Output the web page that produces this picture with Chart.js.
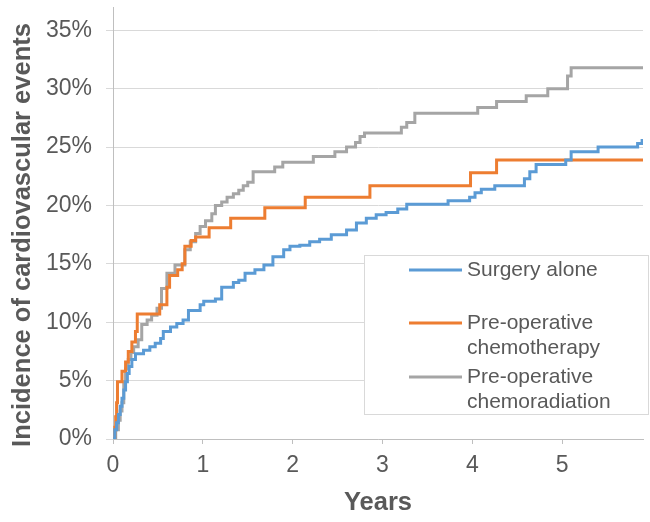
<!DOCTYPE html>
<html lang="en">
<head>
  <meta charset="UTF-8">
  <title>Incidence of cardiovascular events</title>
  <script src="https://cdn.jsdelivr.net/npm/chart.js"></script>
  <style>
    body { margin: 0; padding: 0; background: #fff; }
    canvas { display: block; }
  </style>
</head>
<body>
  <canvas id="kmChart" width="650" height="522"></canvas>
  <script>
    // cumulative incidence (%), time in years
    const surgeryYears = [0, 0.02, 0.04, 0.06, 0.08, 0.10, 0.12, 0.14, 0.16, 0.18, 0.21, 0.25, 0.34, 0.41, 0.47, 0.53, 0.56, 0.64, 0.71, 0.78, 0.84, 0.97, 1.01, 1.14, 1.21, 1.34, 1.40, 1.47, 1.58, 1.68, 1.78, 1.90, 1.97, 2.08, 2.19, 2.30, 2.43, 2.60, 2.71, 2.82, 2.93, 3.04, 3.17, 3.27, 3.73, 3.97, 4.03, 4.10, 4.25, 4.58, 4.64, 4.71, 5.04, 5.10, 5.40, 5.84, 5.89];
    const surgeryRates = [0, 0.8, 1.4, 2.1, 2.8, 3.5, 4.2, 4.9, 5.6, 6.2, 6.8, 7.3, 7.6, 7.9, 8.2, 8.6, 9.2, 9.6, 9.9, 10.2, 11.0, 11.5, 11.8, 12.0, 13.0, 13.4, 13.6, 14.2, 14.5, 14.9, 15.6, 16.2, 16.5, 16.6, 16.9, 17.1, 17.5, 17.9, 18.5, 18.9, 19.2, 19.4, 19.7, 20.1, 20.4, 20.7, 21.1, 21.4, 21.7, 22.3, 22.9, 23.5, 23.9, 24.6, 25.0, 25.3, 25.7];

    const chemoYears = [0, 0.02, 0.03, 0.04, 0.05, 0.10, 0.14, 0.17, 0.21, 0.25, 0.27, 0.52, 0.60, 0.63, 0.72, 0.77, 0.80, 0.87, 0.92, 1.07, 1.31, 1.69, 2.14, 2.86, 3.98, 4.27, 5.90];
    const chemoRates = [0, 1.0, 1.9, 3.1, 4.9, 5.8, 6.6, 7.5, 8.3, 9.2, 10.7, 11.5, 13.0, 14.0, 14.5, 15.0, 16.5, 17.0, 17.3, 18.1, 18.9, 19.8, 20.7, 21.7, 22.8, 23.9, 23.9];

    const chemoradYears = [0, 0.03, 0.06, 0.08, 0.10, 0.12, 0.14, 0.17, 0.20, 0.23, 0.28, 0.32, 0.38, 0.43, 0.49, 0.54, 0.60, 0.69, 0.80, 0.86, 0.92, 0.97, 1.03, 1.10, 1.14, 1.21, 1.27, 1.34, 1.40, 1.45, 1.50, 1.56, 1.80, 1.89, 2.23, 2.47, 2.60, 2.70, 2.75, 2.80, 3.21, 3.27, 3.36, 4.06, 4.27, 4.60, 4.84, 5.06, 5.10, 5.90];
    const chemoradRates = [0, 0.8, 1.6, 2.4, 3.1, 4.9, 6.0, 6.8, 7.4, 7.9, 8.5, 9.8, 10.2, 10.6, 11.2, 12.9, 14.2, 14.9, 16.2, 16.9, 17.6, 18.2, 18.7, 19.3, 20.0, 20.3, 20.7, 21.0, 21.3, 21.7, 22.0, 22.9, 23.3, 23.7, 24.2, 24.6, 25.0, 25.4, 25.9, 26.2, 26.7, 27.1, 27.9, 28.4, 28.9, 29.4, 30.0, 31.1, 31.8, 31.8];

    const seriesLabels = [
      ['Surgery alone'],
      ['Pre-operative', 'chemotherapy'],
      ['Pre-operative', 'chemoradiation']
    ];
    const seriesColors = ['#5B9BD5', '#ED7D31', '#A5A5A5'];
    const yTitle = 'Incidence of cardiovascular events';

    const toPoints = (xs, ys) => xs.map((x, i) => ({ x: x, y: ys[i] }));
    const textColor = '#595959';
    const fontFamily = '"Liberation Sans", Arial, sans-serif';

    // Excel-style boxed legend inside the plot, plus the y title (sits a bit low in the original)
    const boxLegend = {
      id: 'boxLegend',
      afterDatasetsDraw(chart) {
        const ctx = chart.ctx;
        ctx.save();
        ctx.fillStyle = '#fff';
        ctx.fillRect(364, 255, 285, 159);
        ctx.strokeStyle = '#D9D9D9';
        ctx.lineWidth = 1;
        ctx.strokeRect(364.5, 255.5, 284, 159);
        const rows = [270, 323, 377];
        ctx.font = '21px ' + fontFamily;
        ctx.textBaseline = 'middle';
        ctx.fillStyle = textColor;
        chart.data.datasets.forEach((ds, i) => {
          ctx.strokeStyle = ds.borderColor;
          ctx.lineWidth = 3;
          ctx.beginPath();
          ctx.moveTo(409, rows[i]);
          ctx.lineTo(462, rows[i]);
          ctx.stroke();
          seriesLabels[i].forEach((line, j) => {
            ctx.fillText(line, 467, rows[i] + j * 25);
          });
        });

        ctx.translate(23, 235);
        ctx.rotate(-Math.PI / 2);
        ctx.textAlign = 'center';
        ctx.font = 'bold 25.5px ' + fontFamily;
        ctx.fillText(yTitle, 0, 0);
        ctx.restore();
      }
    };

    const ctx = document.getElementById('kmChart').getContext('2d');
    const kmChart = new Chart(ctx, {
      type: 'line',
      data: {
        datasets: [
          { label: seriesLabels[0].join(' '), data: toPoints(surgeryYears, surgeryRates), borderColor: seriesColors[0] },
          { label: seriesLabels[1].join(' '), data: toPoints(chemoYears, chemoRates), borderColor: seriesColors[1] },
          { label: seriesLabels[2].join(' '), data: toPoints(chemoradYears, chemoradRates), borderColor: seriesColors[2] }
        ].map(d => Object.assign(d, { borderWidth: 3, pointRadius: 0, stepped: 'before', fill: false }))
      },
      options: {
        responsive: false,
        animation: false,
        layout: { padding: { top: 7, right: 7, left: 0, bottom: 0 } },
        plugins: { legend: { display: false }, tooltip: { enabled: false } },
        scales: {
          x: {
            type: 'linear',
            min: 0,
            max: 5.9,
            afterFit: s => { s.height = 83; s.paddingLeft = 0; s.paddingRight = 0; },
            border: { color: '#BFBFBF', width: 1 },
            grid: { drawOnChartArea: false, drawTicks: true, tickLength: 5, color: '#BFBFBF' },
            ticks: { stepSize: 1, includeBounds: false, color: textColor, padding: 8, font: { family: fontFamily, size: 23 } },
            title: { display: true, text: 'Years', color: textColor, padding: { top: 0, bottom: 4 }, font: { family: fontFamily, size: 25.5, weight: 'bold' } }
          },
          y: {
            min: 0,
            max: 37,
            afterFit: s => { s.width = 113; s.paddingTop = 0; s.paddingBottom = 0; },
            border: { color: '#BFBFBF', width: 1 },
            grid: { color: '#D9D9D9', tickLength: 7 },
            ticks: { stepSize: 5, includeBounds: false, color: textColor, padding: 14, font: { family: fontFamily, size: 23 }, callback: v => v + '%' }
          }
        }
      },
      plugins: [boxLegend]
    });
  </script>
</body>
</html>
